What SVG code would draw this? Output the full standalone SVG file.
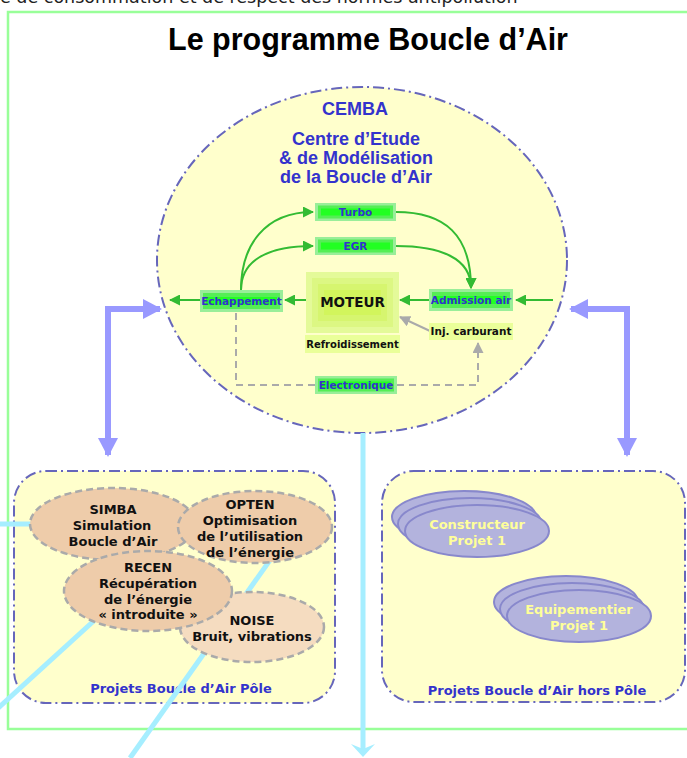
<svg xmlns="http://www.w3.org/2000/svg" width="687" height="758" viewBox="0 0 687 758">
<style>
  .ttl{font-family:"Liberation Sans",Arial,sans-serif;font-weight:bold;fill:#000}
  .cem{font-family:"Liberation Sans",Arial,sans-serif;font-weight:bold;fill:#3333cc;font-size:18px;text-anchor:middle}
  .gb{font-family:"DejaVu Sans",Verdana,sans-serif;font-weight:bold;fill:#3333cc;font-size:10.5px;text-anchor:middle}
  .bk{font-family:"DejaVu Sans",Verdana,sans-serif;font-weight:bold;fill:#111;text-anchor:middle}
  .pl{font-family:"DejaVu Sans",Verdana,sans-serif;font-weight:bold;fill:#3333cc;font-size:13px;text-anchor:middle}
  .yl{font-family:"DejaVu Sans",Verdana,sans-serif;font-weight:bold;fill:#ffff99;font-size:13px;text-anchor:middle}
  .el{font-family:"DejaVu Sans",Verdana,sans-serif;font-weight:bold;fill:#111;font-size:13px;text-anchor:middle}
  .dd{fill:#ffffcc;stroke:#6666bb;stroke-width:2;stroke-dasharray:11 4 2 4}
  .proj{fill:#eeccaa;stroke:#aaaaaa;stroke-width:2.5;stroke-dasharray:7 4}
  .stk{fill:#b3b3dd;stroke:#8888cc;stroke-width:2}
  .g-out{fill:#99ee99}
  .g-mid{fill:#55ee55}
  .g-in{fill:#22ff22}
  .garr{fill:none;stroke:#33bb33;stroke-width:2}
  .gray{fill:none;stroke:#aaaaaa;stroke-width:2}
  .purp{fill:none;stroke:#9999ff;stroke-width:6}
  .lb{fill:none;stroke:#a6eeff;stroke-width:5}
</style>
<defs>
  <marker id="ag" markerUnits="userSpaceOnUse" markerWidth="11" markerHeight="11" refX="10" refY="5.5" orient="auto">
    <path d="M0,0 L11,5.5 L0,11 z" fill="#33bb33"/>
  </marker>
  <marker id="ay" markerUnits="userSpaceOnUse" markerWidth="11" markerHeight="11" refX="10" refY="5.5" orient="auto">
    <path d="M0,0 L11,5.5 L0,11 z" fill="#aaaaaa"/>
  </marker>
  <marker id="ap" markerUnits="userSpaceOnUse" markerWidth="20" markerHeight="20" refX="17" refY="10" orient="auto-start-reverse">
    <path d="M0,0 L19,10 L0,20 z" fill="#9999ff"/>
  </marker>
</defs>

<text x="0" y="3" font-family="DejaVu Sans, Verdana, sans-serif" font-size="17.5" fill="#222">e de consommation et de respect des normes antipollution</text>

<rect x="8" y="12" width="700" height="717" fill="none" stroke="#99ff99" stroke-width="2.5"/>

<text class="ttl" x="368" y="50" font-size="30.5" text-anchor="middle">Le programme Boucle d’Air</text>

<g id="cemba">
  <ellipse class="dd" cx="362" cy="260" rx="205" ry="173"/>
  <text class="cem" x="355" y="115" font-size="17.5">CEMBA</text>
  <text class="cem" x="356" y="145">Centre d’Etude</text>
  <text class="cem" x="356" y="164">&amp; de Modélisation</text>
  <text class="cem" x="356" y="183">de la Boucle d’Air</text>
</g>

<g id="pole">
  <rect class="dd" x="14" y="471" width="321" height="232" rx="32"/>
  <text class="pl" x="181" y="693">Projets Boucle d’Air Pôle</text>
</g>

<g id="horspole">
  <rect class="dd" x="382" y="471" width="303" height="231" rx="32"/>
  <text class="pl" x="537" y="695">Projets Boucle d’Air hors Pôle</text>
</g>

<g id="connectors">
  <!-- light blue links -->
  <line class="lb" x1="0" y1="524" x2="60" y2="524"/>
  <line class="lb" x1="120" y1="597" x2="-5" y2="711"/>
  <line class="lb" x1="280" y1="546" x2="130" y2="758"/>
  <line class="lb" x1="363" y1="433" x2="363" y2="750"/>
  <path d="M363,757 L351,744 L363,749 L375,744 z" fill="#a6eeff"/>
  <!-- green flows -->
  <line class="garr" x1="553" y1="300" x2="516" y2="300" marker-end="url(#ag)"/>
  <line class="garr" x1="429" y1="300" x2="400" y2="300" marker-end="url(#ag)"/>
  <line class="garr" x1="306" y1="300" x2="285" y2="300" marker-end="url(#ag)"/>
  <line class="garr" x1="200" y1="300" x2="170" y2="300" marker-end="url(#ag)"/>
  <path class="garr" d="M241,290 C241,245 265,212 313,212" marker-end="url(#ag)"/>
  <path class="garr" d="M241,290 C241,262 265,246 313,246" marker-end="url(#ag)"/>
  <path class="garr" d="M396,212 C445,212 471,235 471,288" marker-end="url(#ag)"/>
  <path class="garr" d="M396,246 C440,246 471,258 471,288" marker-end="url(#ag)"/>
  <!-- gray -->
  <line class="gray" x1="430" y1="331" x2="400" y2="317" marker-end="url(#ay)"/>
  <path class="gray" d="M236,313 V385 H315" stroke-dasharray="7 5"/>
  <path class="gray" d="M397,385 H478 V343" stroke-dasharray="7 5" marker-end="url(#ay)"/>
  <!-- purple two-way -->
  <path class="purp" d="M108,455 V309 H160" marker-start="url(#ap)" marker-end="url(#ap)"/>
  <path class="purp" d="M627,455 V309 H571" marker-start="url(#ap)" marker-end="url(#ap)"/>
</g>

<g id="turbo">
  <rect class="g-out" x="315" y="203" width="81" height="18"/>
  <rect class="g-mid" x="318" y="205.5" width="75" height="13"/>
  <rect class="g-in" x="321" y="208.5" width="69" height="7"/>
  <text class="gb" x="355.5" y="216">Turbo</text>
</g>
<g id="egr">
  <rect class="g-out" x="315" y="237" width="81" height="18"/>
  <rect class="g-mid" x="318" y="239.5" width="75" height="13"/>
  <rect class="g-in" x="321" y="242.5" width="69" height="7"/>
  <text class="gb" x="355.5" y="250">EGR</text>
</g>
<g id="echappement">
  <rect class="g-out" x="200" y="290" width="83" height="22"/>
  <rect class="g-mid" x="203" y="293" width="77" height="16"/>
  <rect class="g-in" x="206" y="297" width="71" height="8"/>
  <text class="gb" x="241.5" y="305">Echappement</text>
</g>
<g id="admission">
  <rect class="g-out" x="429" y="289" width="84" height="22"/>
  <rect class="g-mid" x="432" y="292" width="78" height="16"/>
  <rect class="g-in" x="435" y="296" width="72" height="8"/>
  <text class="gb" x="471" y="304">Admission air</text>
</g>
<g id="electronique">
  <rect class="g-out" x="315" y="376" width="82" height="18"/>
  <rect class="g-mid" x="318" y="378.5" width="76" height="13"/>
  <rect class="g-in" x="321" y="381.5" width="70" height="7"/>
  <text class="gb" x="356" y="389">Electronique</text>
</g>
<g id="moteur">
  <rect x="306" y="272" width="93" height="61" fill="#e4fa99"/>
  <rect x="312" y="278" width="81" height="49" fill="#dcf783"/>
  <rect x="318" y="284" width="69" height="37" fill="#d6f56f"/>
  <rect x="324" y="290" width="57" height="25" fill="#d2f55c"/>
  <text class="bk" x="352.5" y="307" font-size="13.5">MOTEUR</text>
</g>
<g id="refroidissement">
  <rect x="305" y="335" width="95" height="18" fill="#eaff99"/>
  <text class="bk" x="352.5" y="348" font-size="10">Refroidissement</text>
</g>
<g id="injection">
  <rect x="429" y="323" width="84" height="17" fill="#eaff99"/>
  <text class="bk" x="471" y="335" font-size="10.5">Inj. carburant</text>
</g>

<g id="simba">
  <ellipse class="proj" cx="113" cy="524" rx="83" ry="36"/>
  <text class="el" x="113" y="514">SIMBA</text>
  <text class="el" x="112" y="530">Simulation</text>
  <text class="el" x="113" y="546">Boucle d’Air</text>
</g>
<g id="opten">
  <ellipse class="proj" cx="255" cy="527" rx="77" ry="36"/>
  <text class="el" x="250" y="509">OPTEN</text>
  <text class="el" x="250" y="525">Optimisation</text>
  <text class="el" x="250" y="541">de l’utilisation</text>
  <text class="el" x="250" y="557">de l’énergie</text>
</g>
<g id="noise">
  <ellipse class="proj" cx="252" cy="627" rx="72" ry="35" style="fill:#f5dcc0"/>
  <text class="el" x="252" y="625">NOISE</text>
  <text class="el" x="252" y="641">Bruit, vibrations</text>
</g>
<g id="recen">
  <ellipse class="proj" cx="148" cy="591" rx="84" ry="40"/>
  <text class="el" x="148" y="572">RECEN</text>
  <text class="el" x="148" y="588">Récupération</text>
  <text class="el" x="148" y="604">de l’énergie</text>
  <text class="el" x="148" y="619">« introduite »</text>
</g>

<g id="constructeur">
  <ellipse class="stk" cx="464" cy="517" rx="72" ry="26"/>
  <ellipse class="stk" cx="470" cy="524" rx="72" ry="26"/>
  <ellipse class="stk" cx="477" cy="531" rx="72" ry="26"/>
  <text class="yl" x="477" y="529">Constructeur</text>
  <text class="yl" x="477" y="545">Projet 1</text>
</g>
<g id="equipementier">
  <ellipse class="stk" cx="566" cy="602" rx="72" ry="26"/>
  <ellipse class="stk" cx="572" cy="609" rx="72" ry="26"/>
  <ellipse class="stk" cx="579" cy="616" rx="72" ry="26"/>
  <text class="yl" x="579" y="614">Equipementier</text>
  <text class="yl" x="579" y="630">Projet 1</text>
</g>
</svg>
